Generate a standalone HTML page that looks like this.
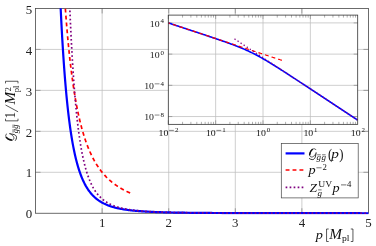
<!DOCTYPE html><html><head><meta charset="utf-8"><style>html,body{margin:0;padding:0;background:#fff;}text{filter:grayscale(1);}svg{display:block;font-family:"Liberation Serif",serif;}</style></head><body>
<svg width="376" height="246" viewBox="0 0 376 246">
<rect width="376" height="246" fill="#fff"/>
<defs><clipPath id="cm"><rect x="35.56" y="8.15" width="333.30" height="206.40"/></clipPath>
<clipPath id="ci"><rect x="168.30" y="15.10" width="189.40" height="109.25"/></clipPath></defs>
<line x1="102.14" y1="213.25" x2="102.14" y2="8.45" stroke="#bebebe" stroke-width="0.75"/>
<line x1="35.56" y1="172.29" x2="368.46" y2="172.29" stroke="#bebebe" stroke-width="0.75"/>
<line x1="168.72" y1="213.25" x2="168.72" y2="8.45" stroke="#bebebe" stroke-width="0.75"/>
<line x1="35.56" y1="131.33" x2="368.46" y2="131.33" stroke="#bebebe" stroke-width="0.75"/>
<line x1="235.30" y1="213.25" x2="235.30" y2="8.45" stroke="#bebebe" stroke-width="0.75"/>
<line x1="35.56" y1="90.37" x2="368.46" y2="90.37" stroke="#bebebe" stroke-width="0.75"/>
<line x1="301.88" y1="213.25" x2="301.88" y2="8.45" stroke="#bebebe" stroke-width="0.75"/>
<line x1="35.56" y1="49.41" x2="368.46" y2="49.41" stroke="#bebebe" stroke-width="0.75"/>
<line x1="102.14" y1="213.25" x2="102.14" y2="208.25" stroke="#8c8c8c" stroke-width="0.8"/>
<line x1="102.14" y1="8.45" x2="102.14" y2="13.45" stroke="#8c8c8c" stroke-width="0.8"/>
<line x1="35.56" y1="172.29" x2="40.56" y2="172.29" stroke="#8c8c8c" stroke-width="0.8"/>
<line x1="368.46" y1="172.29" x2="363.46" y2="172.29" stroke="#8c8c8c" stroke-width="0.8"/>
<line x1="168.72" y1="213.25" x2="168.72" y2="208.25" stroke="#8c8c8c" stroke-width="0.8"/>
<line x1="168.72" y1="8.45" x2="168.72" y2="13.45" stroke="#8c8c8c" stroke-width="0.8"/>
<line x1="35.56" y1="131.33" x2="40.56" y2="131.33" stroke="#8c8c8c" stroke-width="0.8"/>
<line x1="368.46" y1="131.33" x2="363.46" y2="131.33" stroke="#8c8c8c" stroke-width="0.8"/>
<line x1="235.30" y1="213.25" x2="235.30" y2="208.25" stroke="#8c8c8c" stroke-width="0.8"/>
<line x1="235.30" y1="8.45" x2="235.30" y2="13.45" stroke="#8c8c8c" stroke-width="0.8"/>
<line x1="35.56" y1="90.37" x2="40.56" y2="90.37" stroke="#8c8c8c" stroke-width="0.8"/>
<line x1="368.46" y1="90.37" x2="363.46" y2="90.37" stroke="#8c8c8c" stroke-width="0.8"/>
<line x1="301.88" y1="213.25" x2="301.88" y2="208.25" stroke="#8c8c8c" stroke-width="0.8"/>
<line x1="301.88" y1="8.45" x2="301.88" y2="13.45" stroke="#8c8c8c" stroke-width="0.8"/>
<line x1="35.56" y1="49.41" x2="40.56" y2="49.41" stroke="#8c8c8c" stroke-width="0.8"/>
<line x1="368.46" y1="49.41" x2="363.46" y2="49.41" stroke="#8c8c8c" stroke-width="0.8"/>
<rect x="35.56" y="8.45" width="332.90" height="204.80" fill="none" stroke="#484848" stroke-width="0.8"/>
<g clip-path="url(#cm)" fill="none">
<path d="M55.53,-148.77 L56.06,-126.90 L56.58,-106.71 L57.10,-88.05 L57.62,-70.77 L58.14,-54.74 L58.66,-39.85 L59.18,-26.00 L59.71,-13.11 L60.23,-1.08 L60.75,10.15 L61.27,20.64 L61.79,30.46 L62.31,39.66 L62.84,48.29 L63.36,56.38 L63.88,63.99 L64.40,71.14 L64.92,77.87 L65.44,84.20 L65.96,90.17 L66.49,95.81 L67.01,101.13 L67.53,106.15 L68.05,110.90 L68.57,115.39 L69.09,119.64 L69.62,123.66 L70.14,127.48 L70.66,131.09 L71.18,134.53 L71.70,137.78 L72.22,140.88 L72.74,143.82 L73.27,146.61 L73.79,149.27 L74.31,151.80 L74.83,154.21 L75.35,156.50 L75.87,158.69 L76.40,160.77 L76.92,162.76 L77.44,164.65 L77.96,166.46 L78.48,168.19 L79.00,169.84 L79.52,171.42 L80.05,172.93 L80.57,174.37 L81.09,175.76 L81.61,177.08 L82.13,178.34 L82.65,179.55 L83.18,180.71 L83.70,181.83 L84.22,182.89 L84.74,183.91 L85.26,184.89 L85.78,185.84 L86.31,186.74 L86.83,187.61 L87.35,188.44 L87.87,189.24 L88.39,190.01 L88.91,190.75 L89.43,191.46 L89.96,192.14 L90.48,192.80 L91.00,193.43 L91.52,194.04 L92.04,194.63 L92.56,195.19 L93.09,195.74 L93.61,196.26 L94.13,196.76 L94.65,197.25 L95.17,197.72 L95.69,198.17 L96.21,198.61 L96.74,199.03 L97.26,199.44 L97.78,199.83 L98.30,200.21 L98.82,200.58 L99.34,200.93 L99.87,201.27 L100.39,201.60 L100.91,201.92 L101.43,202.23 L101.95,202.53 L102.47,202.81 L102.99,203.09 L103.52,203.36 L104.04,203.62 L104.56,203.88 L105.08,204.12 L105.60,204.36 L106.12,204.59 L106.65,204.81 L107.17,205.02 L107.69,205.23 L108.21,205.43 L108.73,205.63 L109.25,205.82 L109.77,206.00 L110.30,206.18 L110.82,206.36 L111.34,206.52 L111.86,206.69 L112.38,206.85 L112.90,207.00 L113.43,207.15 L113.95,207.29 L114.47,207.43 L114.99,207.57 L115.51,207.70 L116.03,207.83 L116.55,207.96 L117.08,208.08 L117.60,208.20 L118.12,208.31 L118.64,208.42 L119.16,208.53 L119.68,208.64 L120.21,208.74 L120.73,208.84 L121.25,208.94 L121.77,209.03 L122.29,209.12 L122.81,209.21 L123.33,209.30 L123.86,209.38 L124.38,209.47 L124.90,209.55 L125.42,209.63 L125.94,209.70 L126.46,209.78 L126.99,209.85 L127.51,209.92 L128.03,209.99 L128.55,210.06 L129.07,210.12 L129.59,210.18 L130.11,210.25 L130.64,210.31 L131.16,210.37 L131.68,210.42 L132.20,210.48 L132.72,210.54 L133.24,210.59 L133.77,210.64 L134.29,210.69 L134.81,210.74 L135.33,210.79 L135.85,210.84 L136.37,210.88 L136.89,210.93 L137.42,210.97 L137.94,211.02 L138.46,211.06 L138.98,211.10 L139.50,211.14 L140.02,211.18 L140.55,211.22 L141.07,211.25 L141.59,211.29 L142.11,211.33 L142.63,211.36 L143.15,211.40 L143.67,211.43 L144.20,211.46 L144.72,211.49 L145.24,211.53 L145.76,211.56 L146.28,211.59 L146.80,211.62 L147.33,211.64 L147.85,211.67 L148.37,211.70 L148.89,211.73 L149.41,211.75 L149.93,211.78 L150.45,211.80 L150.98,211.83 L151.50,211.85 L152.02,211.88 L152.54,211.90 L153.06,211.92 L153.58,211.94 L154.11,211.97 L154.63,211.99 L155.15,212.01 L155.67,212.03 L156.19,212.05 L156.71,212.07 L157.23,212.09 L157.76,212.11 L158.28,212.12 L158.80,212.14 L159.32,212.16 L159.84,212.18 L160.36,212.19 L160.89,212.21 L161.41,212.23 L161.93,212.24 L162.45,212.26 L162.97,212.27 L163.49,212.29 L164.02,212.30 L164.54,212.32 L165.06,212.33 L165.58,212.35 L166.10,212.36 L166.62,212.37 L167.14,212.39 L167.67,212.40 L168.19,212.41 L168.71,212.43 L169.23,212.44 L169.75,212.45 L170.27,212.46 L170.80,212.47 L171.32,212.49 L171.84,212.50 L172.36,212.51 L172.88,212.52 L173.40,212.53 L173.92,212.54 L174.45,212.55 L174.97,212.56 L175.49,212.57 L176.01,212.58 L176.53,212.59 L177.05,212.60 L177.58,212.61 L178.10,212.62 L178.62,212.62 L179.14,212.63 L179.66,212.64 L180.18,212.65 L180.70,212.66 L181.23,212.67 L181.75,212.67 L182.27,212.68 L182.79,212.69 L183.31,212.70 L183.83,212.71 L184.36,212.71 L184.88,212.72 L185.40,212.73 L185.92,212.73 L186.44,212.74 L186.96,212.75 L187.48,212.75 L188.01,212.76 L188.53,212.77 L189.05,212.77 L189.57,212.78 L190.09,212.79 L190.61,212.79 L191.14,212.80 L191.66,212.80 L192.18,212.81 L192.70,212.82 L193.22,212.82 L193.74,212.83 L194.26,212.83 L194.79,212.84 L195.31,212.84 L195.83,212.85 L196.35,212.85 L196.87,212.86 L197.39,212.86 L197.92,212.87 L198.44,212.87 L198.96,212.88 L199.48,212.88 L200.00,212.89 L200.52,212.89 L201.04,212.89 L201.57,212.90 L202.09,212.90 L202.61,212.91 L203.13,212.91 L203.65,212.92 L204.17,212.92 L204.70,212.92 L205.22,212.93 L205.74,212.93 L206.26,212.93 L206.78,212.94 L207.30,212.94 L207.82,212.95 L208.35,212.95 L208.87,212.95 L209.39,212.96 L209.91,212.96 L210.43,212.96 L210.95,212.97 L211.48,212.97 L212.00,212.97 L212.52,212.98 L213.04,212.98 L213.56,212.98 L214.08,212.99 L214.60,212.99 L215.13,212.99 L215.65,212.99 L216.17,213.00 L216.69,213.00 L217.21,213.00 L217.73,213.01 L218.26,213.01 L218.78,213.01 L219.30,213.01 L219.82,213.02 L220.34,213.02 L220.86,213.02 L221.38,213.02 L221.91,213.03 L222.43,213.03 L222.95,213.03 L223.47,213.03 L223.99,213.04 L224.51,213.04 L225.04,213.04 L225.56,213.04 L226.08,213.04 L226.60,213.05 L227.12,213.05 L227.64,213.05 L228.16,213.05 L228.69,213.06 L229.21,213.06 L229.73,213.06 L230.25,213.06 L230.77,213.06 L231.29,213.07 L231.82,213.07 L232.34,213.07 L232.86,213.07 L233.38,213.07 L233.90,213.07 L234.42,213.08 L234.94,213.08 L235.47,213.08 L235.99,213.08 L236.51,213.08 L237.03,213.09 L237.55,213.09 L238.07,213.09 L238.60,213.09 L239.12,213.09 L239.64,213.09 L240.16,213.09 L240.68,213.10 L241.20,213.10 L241.72,213.10 L242.25,213.10 L242.77,213.10 L243.29,213.10 L243.81,213.11 L244.33,213.11 L244.85,213.11 L245.38,213.11 L245.90,213.11 L246.42,213.11 L246.94,213.11 L247.46,213.11 L247.98,213.12 L248.51,213.12 L249.03,213.12 L249.55,213.12 L250.07,213.12 L250.59,213.12 L251.11,213.12 L251.63,213.12 L252.16,213.13 L252.68,213.13 L253.20,213.13 L253.72,213.13 L254.24,213.13 L254.76,213.13 L255.29,213.13 L255.81,213.13 L256.33,213.14 L256.85,213.14 L257.37,213.14 L257.89,213.14 L258.41,213.14 L258.94,213.14 L259.46,213.14 L259.98,213.14 L260.50,213.14 L261.02,213.14 L261.54,213.15 L262.07,213.15 L262.59,213.15 L263.11,213.15 L263.63,213.15 L264.15,213.15 L264.67,213.15 L265.19,213.15 L265.72,213.15 L266.24,213.15 L266.76,213.15 L267.28,213.16 L267.80,213.16 L268.32,213.16 L268.85,213.16 L269.37,213.16 L269.89,213.16 L270.41,213.16 L270.93,213.16 L271.45,213.16 L271.97,213.16 L272.50,213.16 L273.02,213.16 L273.54,213.16 L274.06,213.17 L274.58,213.17 L275.10,213.17 L275.63,213.17 L276.15,213.17 L276.67,213.17 L277.19,213.17 L277.71,213.17 L278.23,213.17 L278.75,213.17 L279.28,213.17 L279.80,213.17 L280.32,213.17 L280.84,213.17 L281.36,213.17 L281.88,213.18 L282.41,213.18 L282.93,213.18 L283.45,213.18 L283.97,213.18 L284.49,213.18 L285.01,213.18 L285.53,213.18 L286.06,213.18 L286.58,213.18 L287.10,213.18 L287.62,213.18 L288.14,213.18 L288.66,213.18 L289.19,213.18 L289.71,213.18 L290.23,213.18 L290.75,213.19 L291.27,213.19 L291.79,213.19 L292.31,213.19 L292.84,213.19 L293.36,213.19 L293.88,213.19 L294.40,213.19 L294.92,213.19 L295.44,213.19 L295.97,213.19 L296.49,213.19 L297.01,213.19 L297.53,213.19 L298.05,213.19 L298.57,213.19 L299.09,213.19 L299.62,213.19 L300.14,213.19 L300.66,213.19 L301.18,213.19 L301.70,213.20 L302.22,213.20 L302.75,213.20 L303.27,213.20 L303.79,213.20 L304.31,213.20 L304.83,213.20 L305.35,213.20 L305.87,213.20 L306.40,213.20 L306.92,213.20 L307.44,213.20 L307.96,213.20 L308.48,213.20 L309.00,213.20 L309.53,213.20 L310.05,213.20 L310.57,213.20 L311.09,213.20 L311.61,213.20 L312.13,213.20 L312.65,213.20 L313.18,213.20 L313.70,213.20 L314.22,213.20 L314.74,213.20 L315.26,213.20 L315.78,213.21 L316.31,213.21 L316.83,213.21 L317.35,213.21 L317.87,213.21 L318.39,213.21 L318.91,213.21 L319.43,213.21 L319.96,213.21 L320.48,213.21 L321.00,213.21 L321.52,213.21 L322.04,213.21 L322.56,213.21 L323.09,213.21 L323.61,213.21 L324.13,213.21 L324.65,213.21 L325.17,213.21 L325.69,213.21 L326.21,213.21 L326.74,213.21 L327.26,213.21 L327.78,213.21 L328.30,213.21 L328.82,213.21 L329.34,213.21 L329.87,213.21 L330.39,213.21 L330.91,213.21 L331.43,213.21 L331.95,213.21 L332.47,213.21 L333.00,213.21 L333.52,213.21 L334.04,213.22 L334.56,213.22 L335.08,213.22 L335.60,213.22 L336.12,213.22 L336.65,213.22 L337.17,213.22 L337.69,213.22 L338.21,213.22 L338.73,213.22 L339.25,213.22 L339.78,213.22 L340.30,213.22 L340.82,213.22 L341.34,213.22 L341.86,213.22 L342.38,213.22 L342.90,213.22 L343.43,213.22 L343.95,213.22 L344.47,213.22 L344.99,213.22 L345.51,213.22 L346.03,213.22 L346.56,213.22 L347.08,213.22 L347.60,213.22 L348.12,213.22 L348.64,213.22 L349.16,213.22 L349.68,213.22 L350.21,213.22 L350.73,213.22 L351.25,213.22 L351.77,213.22 L352.29,213.22 L352.81,213.22 L353.34,213.22 L353.86,213.22 L354.38,213.22 L354.90,213.22 L355.42,213.22 L355.94,213.22 L356.46,213.22 L356.99,213.22 L357.51,213.22 L358.03,213.22 L358.55,213.22 L359.07,213.22 L359.59,213.22 L360.12,213.22 L360.64,213.23 L361.16,213.23 L361.68,213.23 L362.20,213.23 L362.72,213.23 L363.24,213.23 L363.77,213.23 L364.29,213.23 L364.81,213.23 L365.33,213.23 L365.85,213.23 L366.37,213.23 L366.90,213.23 L367.42,213.23 L367.94,213.23 L368.46,213.23" stroke="#0000ff" stroke-width="2.2"/>
<path d="M130.10,192.94 L129.88,192.84 L129.66,192.75 L129.44,192.65 L129.22,192.55 L129.01,192.46 L128.79,192.36 L128.57,192.26 L128.35,192.16 L128.13,192.06 L127.91,191.96 L127.69,191.86 L127.47,191.75 L127.25,191.65 L127.03,191.55 L126.81,191.44 L126.59,191.34 L126.37,191.23 L126.15,191.12 L125.93,191.02 L125.71,190.91 L125.49,190.80 L125.27,190.69 L125.05,190.58 L124.83,190.47 L124.61,190.35 L124.39,190.24 L124.17,190.13 L123.95,190.01 L123.73,189.89 L123.51,189.78 L123.29,189.66 L123.07,189.54 L122.85,189.42 L122.63,189.30 L122.41,189.18 L122.19,189.06 L121.97,188.93 L121.75,188.81 L121.53,188.69 L121.32,188.56 L121.10,188.43 L120.88,188.30 L120.66,188.18 L120.44,188.05 L120.22,187.91 L120.00,187.78 L119.78,187.65 L119.56,187.52 L119.34,187.38 L119.12,187.24 L118.90,187.11 L118.68,186.97 L118.46,186.83 L118.24,186.69 L118.02,186.55 L117.80,186.40 L117.58,186.26 L117.36,186.11 L117.14,185.97 L116.92,185.82 L116.70,185.67 L116.48,185.52 L116.26,185.37 L116.04,185.22 L115.82,185.06 L115.60,184.91 L115.38,184.75 L115.16,184.60 L114.94,184.44 L114.72,184.28 L114.50,184.12 L114.28,183.95 L114.06,183.79 L113.84,183.62 L113.63,183.46 L113.41,183.29 L113.19,183.12 L112.97,182.95 L112.75,182.77 L112.53,182.60 L112.31,182.42 L112.09,182.25 L111.87,182.07 L111.65,181.89 L111.43,181.70 L111.21,181.52 L110.99,181.34 L110.77,181.15 L110.55,180.96 L110.33,180.77 L110.11,180.58 L109.89,180.39 L109.67,180.19 L109.45,179.99 L109.23,179.80 L109.01,179.59 L108.79,179.39 L108.57,179.19 L108.35,178.98 L108.13,178.77 L107.91,178.57 L107.69,178.35 L107.47,178.14 L107.25,177.92 L107.03,177.71 L106.81,177.49 L106.59,177.27 L106.37,177.04 L106.15,176.82 L105.94,176.59 L105.72,176.36 L105.50,176.13 L105.28,175.89 L105.06,175.66 L104.84,175.42 L104.62,175.18 L104.40,174.93 L104.18,174.69 L103.96,174.44 L103.74,174.19 L103.52,173.93 L103.30,173.68 L103.08,173.42 L102.86,173.16 L102.64,172.90 L102.42,172.63 L102.20,172.36 L101.98,172.09 L101.76,171.82 L101.54,171.54 L101.32,171.26 L101.10,170.98 L100.88,170.70 L100.66,170.41 L100.44,170.12 L100.22,169.82 L100.00,169.53 L99.78,169.23 L99.56,168.93 L99.34,168.62 L99.12,168.31 L98.90,168.00 L98.68,167.68 L98.46,167.36 L98.25,167.04 L98.03,166.72 L97.81,166.39 L97.59,166.05 L97.37,165.72 L97.15,165.38 L96.93,165.04 L96.71,164.69 L96.49,164.34 L96.27,163.98 L96.05,163.62 L95.83,163.26 L95.61,162.89 L95.39,162.52 L95.17,162.15 L94.95,161.77 L94.73,161.39 L94.51,161.00 L94.29,160.61 L94.07,160.21 L93.85,159.81 L93.63,159.41 L93.41,159.00 L93.19,158.58 L92.97,158.16 L92.75,157.74 L92.53,157.31 L92.31,156.88 L92.09,156.44 L91.87,155.99 L91.65,155.54 L91.43,155.09 L91.21,154.63 L90.99,154.16 L90.77,153.69 L90.56,153.22 L90.34,152.73 L90.12,152.24 L89.90,151.75 L89.68,151.25 L89.46,150.74 L89.24,150.23 L89.02,149.71 L88.80,149.19 L88.58,148.65 L88.36,148.12 L88.14,147.57 L87.92,147.02 L87.70,146.46 L87.48,145.89 L87.26,145.32 L87.04,144.74 L86.82,144.15 L86.60,143.55 L86.38,142.95 L86.16,142.34 L85.94,141.72 L85.72,141.09 L85.50,140.45 L85.28,139.81 L85.06,139.15 L84.84,138.49 L84.62,137.82 L84.40,137.14 L84.18,136.45 L83.96,135.75 L83.74,135.04 L83.52,134.33 L83.30,133.60 L83.08,132.86 L82.87,132.11 L82.65,131.35 L82.43,130.58 L82.21,129.80 L81.99,129.01 L81.77,128.21 L81.55,127.39 L81.33,126.57 L81.11,125.73 L80.89,124.88 L80.67,124.01 L80.45,123.14 L80.23,122.25 L80.01,121.35 L79.79,120.43 L79.57,119.50 L79.35,118.56 L79.13,117.60 L78.91,116.63 L78.69,115.64 L78.47,114.64 L78.25,113.62 L78.03,112.59 L77.81,111.54 L77.59,110.47 L77.37,109.39 L77.15,108.29 L76.93,107.17 L76.71,106.04 L76.49,104.88 L76.27,103.71 L76.05,102.52 L75.83,101.31 L75.61,100.08 L75.39,98.82 L75.18,97.55 L74.96,96.26 L74.74,94.94 L74.52,93.60 L74.30,92.24 L74.08,90.86 L73.86,89.45 L73.64,88.02 L73.42,86.56 L73.20,85.08 L72.98,83.57 L72.76,82.03 L72.54,80.47 L72.32,78.87 L72.10,77.25 L71.88,75.60 L71.66,73.92 L71.44,72.21 L71.22,70.47 L71.00,68.69 L70.78,66.88 L70.56,65.04 L70.34,63.16 L70.12,61.24 L69.90,59.29 L69.68,57.30 L69.46,55.28 L69.24,53.21 L69.02,51.10 L68.80,48.95 L68.58,46.76 L68.36,44.52 L68.14,42.24 L67.92,39.91 L67.70,37.53 L67.49,35.10 L67.27,32.62 L67.05,30.09 L66.83,27.51 L66.61,24.87 L66.39,22.18 L66.17,19.42 L65.95,16.61 L65.73,13.74 L65.51,10.80 L65.29,7.79 L65.07,4.72 L64.85,1.58 L64.63,-1.63 L64.41,-4.91 L64.19,-8.28" stroke="#ff0000" stroke-width="1.7" stroke-dasharray="3.9 3.03"/>
<path d="M68.85,-16.13 L69.35,-2.86 L69.85,9.45 L70.35,20.90 L70.85,31.56 L71.35,41.49 L71.85,50.75 L72.35,59.40 L72.84,67.48 L73.34,75.03 L73.84,82.10 L74.34,88.73 L74.84,94.94 L75.34,100.77 L75.84,106.24 L76.34,111.39 L76.84,116.23 L77.34,120.79 L77.84,125.08 L78.34,129.12 L78.84,132.94 L79.34,136.54 L79.84,139.94 L80.34,143.16 L80.83,146.20 L81.33,149.08 L81.83,151.80 L82.33,154.39 L82.83,156.83 L83.33,159.16 L83.83,161.36 L84.33,163.45 L84.83,165.44 L85.33,167.33 L85.83,169.13 L86.33,170.84 L86.83,172.47 L87.33,174.02 L87.83,175.50 L88.32,176.91 L88.82,178.25 L89.32,179.53 L89.82,180.76 L90.32,181.93 L90.82,183.04 L91.32,184.11 L91.82,185.13 L92.32,186.11 L92.82,187.04 L93.32,187.94 L93.82,188.79 L94.32,189.61 L94.82,190.40 L95.32,191.16 L95.81,191.88 L96.31,192.57 L96.81,193.24 L97.31,193.88 L97.81,194.49 L98.31,195.08 L98.81,195.65 L99.31,196.19 L99.81,196.72 L100.31,197.22 L100.81,197.71 L101.31,198.17 L101.81,198.62 L102.31,199.06 L102.81,199.47 L103.31,199.88 L103.80,200.26 L104.30,200.64 L104.80,201.00 L105.30,201.34 L105.80,201.68 L106.30,202.00 L106.80,202.31 L107.30,202.61 L107.80,202.91 L108.30,203.19 L108.80,203.46 L109.30,203.72 L109.80,203.97 L110.30,204.22 L110.80,204.46 L111.29,204.69 L111.79,204.91 L112.29,205.12 L112.79,205.33 L113.29,205.53 L113.79,205.73 L114.29,205.92 L114.79,206.10 L115.29,206.28 L115.79,206.45 L116.29,206.62 L116.79,206.78 L117.29,206.94 L117.79,207.09 L118.29,207.23 L118.78,207.38 L119.28,207.52 L119.78,207.65 L120.28,207.78 L120.78,207.91 L121.28,208.03 L121.78,208.15 L122.28,208.27 L122.78,208.38 L123.28,208.49 L123.78,208.60 L124.28,208.70 L124.78,208.80 L125.28,208.90 L125.78,209.00 L126.28,209.09 L126.77,209.18 L127.27,209.27 L127.77,209.35 L128.27,209.44 L128.77,209.52 L129.27,209.60 L129.77,209.67 L130.27,209.75 L130.77,209.82 L131.27,209.89 L131.77,209.96 L132.27,210.03 L132.77,210.09 L133.27,210.16 L133.77,210.22 L134.26,210.28 L134.76,210.34 L135.26,210.40 L135.76,210.46 L136.26,210.51 L136.76,210.56 L137.26,210.62 L137.76,210.67 L138.26,210.72 L138.76,210.77 L139.26,210.81 L139.76,210.86 L140.26,210.91 L140.76,210.95 L141.26,210.99 L141.76,211.03 L142.25,211.08 L142.75,211.12 L143.25,211.16 L143.75,211.19 L144.25,211.23 L144.75,211.27 L145.25,211.30 L145.75,211.34 L146.25,211.37 L146.75,211.41 L147.25,211.44 L147.75,211.47 L148.25,211.50 L148.75,211.53 L149.25,211.56 L149.74,211.59 L150.24,211.62 L150.74,211.65 L151.24,211.68 L151.74,211.70 L152.24,211.73 L152.74,211.76 L153.24,211.78 L153.74,211.81 L154.24,211.83 L154.74,211.85 L155.24,211.88 L155.74,211.90 L156.24,211.92 L156.74,211.94 L157.23,211.96 L157.73,211.99 L158.23,212.01 L158.73,212.03 L159.23,212.05 L159.73,212.07 L160.23,212.08 L160.73,212.10 L161.23,212.12 L161.73,212.14 L162.23,212.16 L162.73,212.17 L163.23,212.19 L163.73,212.21 L164.23,212.22 L164.73,212.24 L165.22,212.25 L165.72,212.27 L166.22,212.28 L166.72,212.30 L167.22,212.31 L167.72,212.33 L168.22,212.34 L168.72,212.35 L169.22,212.37 L169.72,212.38 L170.22,212.39 L170.72,212.41 L171.22,212.42 L171.72,212.43 L172.22,212.44 L172.71,212.45 L173.21,212.47 L173.71,212.48 L174.21,212.49 L174.71,212.50 L175.21,212.51 L175.71,212.52 L176.21,212.53 L176.71,212.54 L177.21,212.55 L177.71,212.56 L178.21,212.57 L178.71,212.58 L179.21,212.59 L179.71,212.60 L180.21,212.61 L180.70,212.62 L181.20,212.62 L181.70,212.63 L182.20,212.64 L182.70,212.65 L183.20,212.66 L183.70,212.67 L184.20,212.67 L184.70,212.68 L185.20,212.69 L185.70,212.70 L186.20,212.70 L186.70,212.71 L187.20,212.72 L187.70,212.72 L188.19,212.73 L188.69,212.74 L189.19,212.74 L189.69,212.75 L190.19,212.76 L190.69,212.76 L191.19,212.77 L191.69,212.78 L192.19,212.78 L192.69,212.79 L193.19,212.79 L193.69,212.80 L194.19,212.81 L194.69,212.81 L195.19,212.82 L195.68,212.82 L196.18,212.83 L196.68,212.83 L197.18,212.84 L197.68,212.84 L198.18,212.85 L198.68,212.85 L199.18,212.86 L199.68,212.86 L200.18,212.87 L200.68,212.87 L201.18,212.88 L201.68,212.88 L202.18,212.88 L202.68,212.89 L203.18,212.89 L203.67,212.90 L204.17,212.90 L204.67,212.91 L205.17,212.91 L205.67,212.91 L206.17,212.92 L206.67,212.92 L207.17,212.93 L207.67,212.93 L208.17,212.93 L208.67,212.94 L209.17,212.94 L209.67,212.94 L210.17,212.95 L210.67,212.95 L211.16,212.95 L211.66,212.96 L212.16,212.96 L212.66,212.96 L213.16,212.97 L213.66,212.97 L214.16,212.97 L214.66,212.98 L215.16,212.98 L215.66,212.98 L216.16,212.99 L216.66,212.99 L217.16,212.99 L217.66,212.99 L218.16,213.00 L218.66,213.00 L219.15,213.00 L219.65,213.00 L220.15,213.01 L220.65,213.01 L221.15,213.01 L221.65,213.02 L222.15,213.02 L222.65,213.02 L223.15,213.02 L223.65,213.02 L224.15,213.03 L224.65,213.03 L225.15,213.03 L225.65,213.03 L226.15,213.04 L226.64,213.04 L227.14,213.04 L227.64,213.04 L228.14,213.05 L228.64,213.05 L229.14,213.05 L229.64,213.05 L230.14,213.05 L230.64,213.06 L231.14,213.06 L231.64,213.06 L232.14,213.06 L232.64,213.06 L233.14,213.07 L233.64,213.07 L234.13,213.07 L234.63,213.07 L235.13,213.07 L235.63,213.07 L236.13,213.08 L236.63,213.08 L237.13,213.08 L237.63,213.08 L238.13,213.08 L238.63,213.08 L239.13,213.09 L239.63,213.09 L240.13,213.09 L240.63,213.09 L241.13,213.09 L241.63,213.09 L242.12,213.10 L242.62,213.10 L243.12,213.10 L243.62,213.10 L244.12,213.10 L244.62,213.10 L245.12,213.10 L245.62,213.11 L246.12,213.11 L246.62,213.11 L247.12,213.11 L247.62,213.11 L248.12,213.11 L248.62,213.11 L249.12,213.11 L249.61,213.12 L250.11,213.12 L250.61,213.12 L251.11,213.12 L251.61,213.12 L252.11,213.12 L252.61,213.12 L253.11,213.12 L253.61,213.13 L254.11,213.13 L254.61,213.13 L255.11,213.13 L255.61,213.13 L256.11,213.13 L256.61,213.13 L257.10,213.13 L257.60,213.13 L258.10,213.14 L258.60,213.14 L259.10,213.14 L259.60,213.14 L260.10,213.14 L260.60,213.14 L261.10,213.14 L261.60,213.14 L262.10,213.14 L262.60,213.14 L263.10,213.14 L263.60,213.15 L264.10,213.15 L264.60,213.15 L265.09,213.15 L265.59,213.15 L266.09,213.15 L266.59,213.15 L267.09,213.15 L267.59,213.15 L268.09,213.15 L268.59,213.15 L269.09,213.16 L269.59,213.16 L270.09,213.16 L270.59,213.16 L271.09,213.16 L271.59,213.16 L272.09,213.16 L272.58,213.16 L273.08,213.16 L273.58,213.16 L274.08,213.16 L274.58,213.16 L275.08,213.16 L275.58,213.17 L276.08,213.17 L276.58,213.17 L277.08,213.17 L277.58,213.17 L278.08,213.17 L278.58,213.17 L279.08,213.17 L279.58,213.17 L280.08,213.17 L280.57,213.17 L281.07,213.17 L281.57,213.17 L282.07,213.17 L282.57,213.17 L283.07,213.17 L283.57,213.18 L284.07,213.18 L284.57,213.18 L285.07,213.18 L285.57,213.18 L286.07,213.18 L286.57,213.18 L287.07,213.18 L287.57,213.18 L288.06,213.18 L288.56,213.18 L289.06,213.18 L289.56,213.18 L290.06,213.18 L290.56,213.18 L291.06,213.18 L291.56,213.18 L292.06,213.18 L292.56,213.19 L293.06,213.19 L293.56,213.19 L294.06,213.19 L294.56,213.19 L295.06,213.19 L295.55,213.19 L296.05,213.19 L296.55,213.19 L297.05,213.19 L297.55,213.19 L298.05,213.19 L298.55,213.19 L299.05,213.19 L299.55,213.19 L300.05,213.19 L300.55,213.19 L301.05,213.19 L301.55,213.19 L302.05,213.19 L302.55,213.19 L303.05,213.19 L303.54,213.20 L304.04,213.20 L304.54,213.20 L305.04,213.20 L305.54,213.20 L306.04,213.20 L306.54,213.20 L307.04,213.20 L307.54,213.20 L308.04,213.20 L308.54,213.20 L309.04,213.20 L309.54,213.20 L310.04,213.20 L310.54,213.20 L311.03,213.20 L311.53,213.20 L312.03,213.20 L312.53,213.20 L313.03,213.20 L313.53,213.20 L314.03,213.20 L314.53,213.20 L315.03,213.20 L315.53,213.20 L316.03,213.20 L316.53,213.20 L317.03,213.21 L317.53,213.21 L318.03,213.21 L318.52,213.21 L319.02,213.21 L319.52,213.21 L320.02,213.21 L320.52,213.21 L321.02,213.21 L321.52,213.21 L322.02,213.21 L322.52,213.21 L323.02,213.21 L323.52,213.21 L324.02,213.21 L324.52,213.21 L325.02,213.21 L325.52,213.21 L326.02,213.21 L326.51,213.21 L327.01,213.21 L327.51,213.21 L328.01,213.21 L328.51,213.21 L329.01,213.21 L329.51,213.21 L330.01,213.21 L330.51,213.21 L331.01,213.21 L331.51,213.21 L332.01,213.21 L332.51,213.21 L333.01,213.21 L333.51,213.21 L334.00,213.21 L334.50,213.21 L335.00,213.21 L335.50,213.22 L336.00,213.22 L336.50,213.22 L337.00,213.22 L337.50,213.22 L338.00,213.22 L338.50,213.22 L339.00,213.22 L339.50,213.22 L340.00,213.22 L340.50,213.22 L341.00,213.22 L341.50,213.22 L341.99,213.22 L342.49,213.22 L342.99,213.22 L343.49,213.22 L343.99,213.22 L344.49,213.22 L344.99,213.22 L345.49,213.22 L345.99,213.22 L346.49,213.22 L346.99,213.22 L347.49,213.22 L347.99,213.22 L348.49,213.22 L348.99,213.22 L349.48,213.22 L349.98,213.22 L350.48,213.22 L350.98,213.22 L351.48,213.22 L351.98,213.22 L352.48,213.22 L352.98,213.22 L353.48,213.22 L353.98,213.22 L354.48,213.22 L354.98,213.22 L355.48,213.22 L355.98,213.22 L356.48,213.22 L356.97,213.22 L357.47,213.22 L357.97,213.22 L358.47,213.22 L358.97,213.22 L359.47,213.22 L359.97,213.22 L360.47,213.22 L360.97,213.22 L361.47,213.23 L361.97,213.23 L362.47,213.23 L362.97,213.23 L363.47,213.23 L363.97,213.23 L364.47,213.23 L364.96,213.23 L365.46,213.23 L365.96,213.23 L366.46,213.23 L366.96,213.23 L367.46,213.23 L367.96,213.23 L368.46,213.23" stroke="#800080" stroke-width="1.7" stroke-dasharray="1.7 2.36" stroke-dashoffset="1.7"/>
</g>
<text transform="translate(32.2,218.45) scale(0.97,1)" font-size="13.3" text-anchor="end" fill="#222">0</text>
<text transform="translate(102.14,227.0) scale(0.97,1)" font-size="13.3" text-anchor="middle" fill="#222">1</text>
<text transform="translate(32.2,177.49) scale(0.97,1)" font-size="13.3" text-anchor="end" fill="#222">1</text>
<text transform="translate(168.72,227.0) scale(0.97,1)" font-size="13.3" text-anchor="middle" fill="#222">2</text>
<text transform="translate(32.2,136.53) scale(0.97,1)" font-size="13.3" text-anchor="end" fill="#222">2</text>
<text transform="translate(235.30,227.0) scale(0.97,1)" font-size="13.3" text-anchor="middle" fill="#222">3</text>
<text transform="translate(32.2,95.57) scale(0.97,1)" font-size="13.3" text-anchor="end" fill="#222">3</text>
<text transform="translate(301.88,227.0) scale(0.97,1)" font-size="13.3" text-anchor="middle" fill="#222">4</text>
<text transform="translate(32.2,54.61) scale(0.97,1)" font-size="13.3" text-anchor="end" fill="#222">4</text>
<text transform="translate(368.46,227.0) scale(0.97,1)" font-size="13.3" text-anchor="middle" fill="#222">5</text>
<text transform="translate(32.2,13.65) scale(0.97,1)" font-size="13.3" text-anchor="end" fill="#222">5</text>
<rect x="168.30" y="15.10" width="189.40" height="109.25" fill="#fff"/>
<line x1="215.65" y1="124.35" x2="215.65" y2="15.10" stroke="#bebebe" stroke-width="0.75"/>
<line x1="263.00" y1="124.35" x2="263.00" y2="15.10" stroke="#bebebe" stroke-width="0.75"/>
<line x1="310.35" y1="124.35" x2="310.35" y2="15.10" stroke="#bebebe" stroke-width="0.75"/>
<line x1="168.30" y1="22.90" x2="357.70" y2="22.90" stroke="#bebebe" stroke-width="0.75"/>
<line x1="168.30" y1="54.12" x2="357.70" y2="54.12" stroke="#bebebe" stroke-width="0.75"/>
<line x1="168.30" y1="85.33" x2="357.70" y2="85.33" stroke="#bebebe" stroke-width="0.75"/>
<line x1="168.30" y1="116.55" x2="357.70" y2="116.55" stroke="#bebebe" stroke-width="0.75"/>
<line x1="168.30" y1="124.35" x2="168.30" y2="120.35" stroke="#7c7c7c" stroke-width="0.6"/>
<line x1="168.30" y1="15.10" x2="168.30" y2="19.10" stroke="#7c7c7c" stroke-width="0.6"/>
<line x1="182.55" y1="124.35" x2="182.55" y2="121.85" stroke="#7c7c7c" stroke-width="0.6"/>
<line x1="182.55" y1="15.10" x2="182.55" y2="17.60" stroke="#7c7c7c" stroke-width="0.6"/>
<line x1="190.89" y1="124.35" x2="190.89" y2="121.85" stroke="#7c7c7c" stroke-width="0.6"/>
<line x1="190.89" y1="15.10" x2="190.89" y2="17.60" stroke="#7c7c7c" stroke-width="0.6"/>
<line x1="196.81" y1="124.35" x2="196.81" y2="121.85" stroke="#7c7c7c" stroke-width="0.6"/>
<line x1="196.81" y1="15.10" x2="196.81" y2="17.60" stroke="#7c7c7c" stroke-width="0.6"/>
<line x1="201.40" y1="124.35" x2="201.40" y2="121.85" stroke="#7c7c7c" stroke-width="0.6"/>
<line x1="201.40" y1="15.10" x2="201.40" y2="17.60" stroke="#7c7c7c" stroke-width="0.6"/>
<line x1="205.15" y1="124.35" x2="205.15" y2="121.85" stroke="#7c7c7c" stroke-width="0.6"/>
<line x1="205.15" y1="15.10" x2="205.15" y2="17.60" stroke="#7c7c7c" stroke-width="0.6"/>
<line x1="208.32" y1="124.35" x2="208.32" y2="121.85" stroke="#7c7c7c" stroke-width="0.6"/>
<line x1="208.32" y1="15.10" x2="208.32" y2="17.60" stroke="#7c7c7c" stroke-width="0.6"/>
<line x1="211.06" y1="124.35" x2="211.06" y2="121.85" stroke="#7c7c7c" stroke-width="0.6"/>
<line x1="211.06" y1="15.10" x2="211.06" y2="17.60" stroke="#7c7c7c" stroke-width="0.6"/>
<line x1="213.48" y1="124.35" x2="213.48" y2="121.85" stroke="#7c7c7c" stroke-width="0.6"/>
<line x1="213.48" y1="15.10" x2="213.48" y2="17.60" stroke="#7c7c7c" stroke-width="0.6"/>
<line x1="215.65" y1="124.35" x2="215.65" y2="120.35" stroke="#7c7c7c" stroke-width="0.6"/>
<line x1="215.65" y1="15.10" x2="215.65" y2="19.10" stroke="#7c7c7c" stroke-width="0.6"/>
<line x1="229.90" y1="124.35" x2="229.90" y2="121.85" stroke="#7c7c7c" stroke-width="0.6"/>
<line x1="229.90" y1="15.10" x2="229.90" y2="17.60" stroke="#7c7c7c" stroke-width="0.6"/>
<line x1="238.24" y1="124.35" x2="238.24" y2="121.85" stroke="#7c7c7c" stroke-width="0.6"/>
<line x1="238.24" y1="15.10" x2="238.24" y2="17.60" stroke="#7c7c7c" stroke-width="0.6"/>
<line x1="244.16" y1="124.35" x2="244.16" y2="121.85" stroke="#7c7c7c" stroke-width="0.6"/>
<line x1="244.16" y1="15.10" x2="244.16" y2="17.60" stroke="#7c7c7c" stroke-width="0.6"/>
<line x1="248.75" y1="124.35" x2="248.75" y2="121.85" stroke="#7c7c7c" stroke-width="0.6"/>
<line x1="248.75" y1="15.10" x2="248.75" y2="17.60" stroke="#7c7c7c" stroke-width="0.6"/>
<line x1="252.50" y1="124.35" x2="252.50" y2="121.85" stroke="#7c7c7c" stroke-width="0.6"/>
<line x1="252.50" y1="15.10" x2="252.50" y2="17.60" stroke="#7c7c7c" stroke-width="0.6"/>
<line x1="255.67" y1="124.35" x2="255.67" y2="121.85" stroke="#7c7c7c" stroke-width="0.6"/>
<line x1="255.67" y1="15.10" x2="255.67" y2="17.60" stroke="#7c7c7c" stroke-width="0.6"/>
<line x1="258.41" y1="124.35" x2="258.41" y2="121.85" stroke="#7c7c7c" stroke-width="0.6"/>
<line x1="258.41" y1="15.10" x2="258.41" y2="17.60" stroke="#7c7c7c" stroke-width="0.6"/>
<line x1="260.83" y1="124.35" x2="260.83" y2="121.85" stroke="#7c7c7c" stroke-width="0.6"/>
<line x1="260.83" y1="15.10" x2="260.83" y2="17.60" stroke="#7c7c7c" stroke-width="0.6"/>
<line x1="263.00" y1="124.35" x2="263.00" y2="120.35" stroke="#7c7c7c" stroke-width="0.6"/>
<line x1="263.00" y1="15.10" x2="263.00" y2="19.10" stroke="#7c7c7c" stroke-width="0.6"/>
<line x1="277.25" y1="124.35" x2="277.25" y2="121.85" stroke="#7c7c7c" stroke-width="0.6"/>
<line x1="277.25" y1="15.10" x2="277.25" y2="17.60" stroke="#7c7c7c" stroke-width="0.6"/>
<line x1="285.59" y1="124.35" x2="285.59" y2="121.85" stroke="#7c7c7c" stroke-width="0.6"/>
<line x1="285.59" y1="15.10" x2="285.59" y2="17.60" stroke="#7c7c7c" stroke-width="0.6"/>
<line x1="291.51" y1="124.35" x2="291.51" y2="121.85" stroke="#7c7c7c" stroke-width="0.6"/>
<line x1="291.51" y1="15.10" x2="291.51" y2="17.60" stroke="#7c7c7c" stroke-width="0.6"/>
<line x1="296.10" y1="124.35" x2="296.10" y2="121.85" stroke="#7c7c7c" stroke-width="0.6"/>
<line x1="296.10" y1="15.10" x2="296.10" y2="17.60" stroke="#7c7c7c" stroke-width="0.6"/>
<line x1="299.85" y1="124.35" x2="299.85" y2="121.85" stroke="#7c7c7c" stroke-width="0.6"/>
<line x1="299.85" y1="15.10" x2="299.85" y2="17.60" stroke="#7c7c7c" stroke-width="0.6"/>
<line x1="303.02" y1="124.35" x2="303.02" y2="121.85" stroke="#7c7c7c" stroke-width="0.6"/>
<line x1="303.02" y1="15.10" x2="303.02" y2="17.60" stroke="#7c7c7c" stroke-width="0.6"/>
<line x1="305.76" y1="124.35" x2="305.76" y2="121.85" stroke="#7c7c7c" stroke-width="0.6"/>
<line x1="305.76" y1="15.10" x2="305.76" y2="17.60" stroke="#7c7c7c" stroke-width="0.6"/>
<line x1="308.18" y1="124.35" x2="308.18" y2="121.85" stroke="#7c7c7c" stroke-width="0.6"/>
<line x1="308.18" y1="15.10" x2="308.18" y2="17.60" stroke="#7c7c7c" stroke-width="0.6"/>
<line x1="310.35" y1="124.35" x2="310.35" y2="120.35" stroke="#7c7c7c" stroke-width="0.6"/>
<line x1="310.35" y1="15.10" x2="310.35" y2="19.10" stroke="#7c7c7c" stroke-width="0.6"/>
<line x1="324.60" y1="124.35" x2="324.60" y2="121.85" stroke="#7c7c7c" stroke-width="0.6"/>
<line x1="324.60" y1="15.10" x2="324.60" y2="17.60" stroke="#7c7c7c" stroke-width="0.6"/>
<line x1="332.94" y1="124.35" x2="332.94" y2="121.85" stroke="#7c7c7c" stroke-width="0.6"/>
<line x1="332.94" y1="15.10" x2="332.94" y2="17.60" stroke="#7c7c7c" stroke-width="0.6"/>
<line x1="338.86" y1="124.35" x2="338.86" y2="121.85" stroke="#7c7c7c" stroke-width="0.6"/>
<line x1="338.86" y1="15.10" x2="338.86" y2="17.60" stroke="#7c7c7c" stroke-width="0.6"/>
<line x1="343.45" y1="124.35" x2="343.45" y2="121.85" stroke="#7c7c7c" stroke-width="0.6"/>
<line x1="343.45" y1="15.10" x2="343.45" y2="17.60" stroke="#7c7c7c" stroke-width="0.6"/>
<line x1="347.20" y1="124.35" x2="347.20" y2="121.85" stroke="#7c7c7c" stroke-width="0.6"/>
<line x1="347.20" y1="15.10" x2="347.20" y2="17.60" stroke="#7c7c7c" stroke-width="0.6"/>
<line x1="350.37" y1="124.35" x2="350.37" y2="121.85" stroke="#7c7c7c" stroke-width="0.6"/>
<line x1="350.37" y1="15.10" x2="350.37" y2="17.60" stroke="#7c7c7c" stroke-width="0.6"/>
<line x1="353.11" y1="124.35" x2="353.11" y2="121.85" stroke="#7c7c7c" stroke-width="0.6"/>
<line x1="353.11" y1="15.10" x2="353.11" y2="17.60" stroke="#7c7c7c" stroke-width="0.6"/>
<line x1="355.53" y1="124.35" x2="355.53" y2="121.85" stroke="#7c7c7c" stroke-width="0.6"/>
<line x1="355.53" y1="15.10" x2="355.53" y2="17.60" stroke="#7c7c7c" stroke-width="0.6"/>
<line x1="168.30" y1="22.90" x2="172.30" y2="22.90" stroke="#7c7c7c" stroke-width="0.6"/>
<line x1="357.70" y1="22.90" x2="353.70" y2="22.90" stroke="#7c7c7c" stroke-width="0.6"/>
<line x1="168.30" y1="54.12" x2="172.30" y2="54.12" stroke="#7c7c7c" stroke-width="0.6"/>
<line x1="357.70" y1="54.12" x2="353.70" y2="54.12" stroke="#7c7c7c" stroke-width="0.6"/>
<line x1="168.30" y1="85.33" x2="172.30" y2="85.33" stroke="#7c7c7c" stroke-width="0.6"/>
<line x1="357.70" y1="85.33" x2="353.70" y2="85.33" stroke="#7c7c7c" stroke-width="0.6"/>
<line x1="168.30" y1="116.55" x2="172.30" y2="116.55" stroke="#7c7c7c" stroke-width="0.6"/>
<line x1="357.70" y1="116.55" x2="353.70" y2="116.55" stroke="#7c7c7c" stroke-width="0.6"/>
<g clip-path="url(#ci)" fill="none">
<path d="M168.30,22.90 L169.25,23.22 L170.19,23.53 L171.14,23.84 L172.09,24.15 L173.04,24.47 L173.98,24.78 L174.93,25.09 L175.88,25.40 L176.82,25.72 L177.77,26.03 L178.72,26.34 L179.66,26.65 L180.61,26.96 L181.56,27.28 L182.51,27.59 L183.45,27.90 L184.40,28.21 L185.35,28.53 L186.29,28.84 L187.24,29.15 L188.19,29.47 L189.13,29.78 L190.08,30.09 L191.03,30.40 L191.98,30.72 L192.92,31.03 L193.87,31.34 L194.82,31.66 L195.76,31.97 L196.71,32.28 L197.66,32.60 L198.60,32.91 L199.55,33.22 L200.50,33.54 L201.44,33.85 L202.39,34.17 L203.34,34.48 L204.29,34.80 L205.23,35.11 L206.18,35.43 L207.13,35.74 L208.07,36.06 L209.02,36.38 L209.97,36.69 L210.91,37.01 L211.86,37.33 L212.81,37.65 L213.76,37.97 L214.70,38.29 L215.65,38.61 L216.60,38.93 L217.54,39.25 L218.49,39.57 L219.44,39.90 L220.39,40.22 L221.33,40.55 L222.28,40.88 L223.23,41.20 L224.17,41.53 L225.12,41.87 L226.07,42.20 L227.01,42.54 L227.96,42.87 L228.91,43.22 L229.86,43.56 L230.80,43.90 L231.75,44.25 L232.70,44.60 L233.64,44.96 L234.59,45.32 L235.54,45.68 L236.48,46.04 L237.43,46.41 L238.38,46.79 L239.32,47.17 L240.27,47.55 L241.22,47.94 L242.17,48.33 L243.11,48.73 L244.06,49.14 L245.01,49.55 L245.95,49.97 L246.90,50.40 L247.85,50.83 L248.80,51.27 L249.74,51.72 L250.69,52.17 L251.64,52.63 L252.58,53.10 L253.53,53.57 L254.48,54.05 L255.42,54.54 L256.37,55.04 L257.32,55.54 L258.26,56.05 L259.21,56.57 L260.16,57.09 L261.11,57.62 L262.05,58.15 L263.00,58.69 L263.95,59.24 L264.89,59.79 L265.84,60.35 L266.79,60.91 L267.74,61.47 L268.68,62.04 L269.63,62.62 L270.58,63.19 L271.52,63.78 L272.47,64.36 L273.42,64.95 L274.36,65.54 L275.31,66.13 L276.26,66.73 L277.20,67.33 L278.15,67.93 L279.10,68.53 L280.05,69.13 L280.99,69.74 L281.94,70.34 L282.89,70.95 L283.83,71.56 L284.78,72.17 L285.73,72.79 L286.68,73.40 L287.62,74.01 L288.57,74.63 L289.52,75.24 L290.46,75.86 L291.41,76.48 L292.36,77.10 L293.30,77.71 L294.25,78.33 L295.20,78.95 L296.14,79.57 L297.09,80.19 L298.04,80.81 L298.99,81.43 L299.93,82.06 L300.88,82.68 L301.83,83.30 L302.77,83.92 L303.72,84.54 L304.67,85.16 L305.62,85.79 L306.56,86.41 L307.51,87.03 L308.46,87.66 L309.40,88.28 L310.35,88.90 L311.30,89.53 L312.24,90.15 L313.19,90.77 L314.14,91.40 L315.09,92.02 L316.03,92.64 L316.98,93.27 L317.93,93.89 L318.87,94.51 L319.82,95.14 L320.77,95.76 L321.71,96.39 L322.66,97.01 L323.61,97.63 L324.55,98.26 L325.50,98.88 L326.45,99.51 L327.40,100.13 L328.34,100.75 L329.29,101.38 L330.24,102.00 L331.18,102.63 L332.13,103.25 L333.08,103.87 L334.02,104.50 L334.97,105.12 L335.92,105.75 L336.87,106.37 L337.81,107.00 L338.76,107.62 L339.71,108.24 L340.65,108.87 L341.60,109.49 L342.55,110.12 L343.50,110.74 L344.44,111.36 L345.39,111.99 L346.34,112.61 L347.28,113.24 L348.23,113.86 L349.18,114.49 L350.12,115.11 L351.07,115.73 L352.02,116.36 L352.96,116.98 L353.91,117.61 L354.86,118.23 L355.81,118.86 L356.75,119.48 L357.70,120.10" stroke="#0000ff" stroke-width="1.6"/>
<path d="M281.84,60.33 L281.26,60.14 L280.69,59.95 L280.11,59.76 L279.53,59.57 L278.95,59.38 L278.37,59.18 L277.79,58.99 L277.21,58.80 L276.64,58.61 L276.06,58.42 L275.48,58.23 L274.90,58.04 L274.32,57.85 L273.74,57.66 L273.16,57.47 L272.59,57.28 L272.01,57.09 L271.43,56.90 L270.85,56.71 L270.27,56.51 L269.69,56.32 L269.11,56.13 L268.54,55.94 L267.96,55.75 L267.38,55.56 L266.80,55.37 L266.22,55.18 L265.64,54.99 L265.06,54.80 L264.49,54.61 L263.91,54.42 L263.33,54.23 L262.75,54.04 L262.17,53.84 L261.59,53.65 L261.01,53.46 L260.44,53.27 L259.86,53.08 L259.28,52.89 L258.70,52.70 L258.12,52.51 L257.54,52.32 L256.97,52.13 L256.39,51.94 L255.81,51.75 L255.23,51.56 L254.65,51.37 L254.07,51.18 L253.49,50.98 L252.92,50.79 L252.34,50.60 L251.76,50.41 L251.18,50.22 L250.60,50.03 L250.02,49.84 L249.44,49.65 L248.87,49.46 L248.29,49.27 L247.71,49.08 L247.13,48.89 L246.55,48.70 L245.97,48.51 L245.39,48.31 L244.82,48.12 L244.24,47.93 L243.66,47.74 L243.08,47.55 L242.50,47.36 L241.92,47.17 L241.34,46.98 L240.77,46.79 L240.19,46.60 L239.61,46.41 L239.03,46.22 L238.45,46.03 L237.87,45.84 L237.29,45.64 L236.72,45.45 L236.14,45.26 L235.56,45.07 L234.98,44.88 L234.40,44.69 L233.82,44.50 L233.24,44.31 L232.67,44.12 L232.09,43.93 L231.51,43.74 L230.93,43.55 L230.35,43.36 L229.77,43.17 L229.19,42.98 L228.62,42.78 L228.04,42.59 L227.46,42.40 L226.88,42.21 L226.30,42.02 L225.72,41.83 L225.15,41.64 L224.57,41.45 L223.99,41.26 L223.41,41.07 L222.83,40.88 L222.25,40.69 L221.67,40.50 L221.10,40.31 L220.52,40.11 L219.94,39.92 L219.36,39.73 L218.78,39.54 L218.20,39.35 L217.62,39.16 L217.05,38.97 L216.47,38.78 L215.89,38.59 L215.31,38.40 L214.73,38.21 L214.15,38.02 L213.57,37.83 L213.00,37.64 L212.42,37.45 L211.84,37.25 L211.26,37.06 L210.68,36.87 L210.10,36.68 L209.52,36.49 L208.95,36.30 L208.37,36.11 L207.79,35.92 L207.21,35.73 L206.63,35.54 L206.05,35.35 L205.47,35.16 L204.90,34.97 L204.32,34.78 L203.74,34.58 L203.16,34.39 L202.58,34.20 L202.00,34.01 L201.42,33.82 L200.85,33.63 L200.27,33.44 L199.69,33.25 L199.11,33.06 L198.53,32.87 L197.95,32.68 L197.37,32.49 L196.80,32.30 L196.22,32.11 L195.64,31.91 L195.06,31.72 L194.48,31.53 L193.90,31.34 L193.33,31.15 L192.75,30.96 L192.17,30.77 L191.59,30.58 L191.01,30.39 L190.43,30.20 L189.85,30.01 L189.28,29.82 L188.70,29.63 L188.12,29.44 L187.54,29.25 L186.96,29.05 L186.38,28.86 L185.80,28.67 L185.23,28.48 L184.65,28.29 L184.07,28.10 L183.49,27.91 L182.91,27.72 L182.33,27.53 L181.75,27.34 L181.18,27.15 L180.60,26.96 L180.02,26.77 L179.44,26.58 L178.86,26.38 L178.28,26.19 L177.70,26.00 L177.13,25.81 L176.55,25.62 L175.97,25.43 L175.39,25.24 L174.81,25.05 L174.23,24.86 L173.65,24.67 L173.08,24.48 L172.50,24.29 L171.92,24.10 L171.34,23.91 L170.76,23.71 L170.18,23.52 L169.60,23.33 L169.03,23.14 L168.45,22.95 L167.87,22.76 L167.29,22.57 L166.71,22.38 L166.13,22.19" stroke="#ff0000" stroke-width="1.15" stroke-dasharray="3.9 3.03"/>
<path d="M234.49,38.88 L235.11,39.29 L235.72,39.70 L236.34,40.10 L236.96,40.51 L237.57,40.91 L238.19,41.32 L238.80,41.73 L239.42,42.13 L240.04,42.54 L240.65,42.94 L241.27,43.35 L241.88,43.76 L242.50,44.16 L243.12,44.57 L243.73,44.97 L244.35,45.38 L244.97,45.79 L245.58,46.19 L246.20,46.60 L246.81,47.01 L247.43,47.41 L248.05,47.82 L248.66,48.22 L249.28,48.63 L249.89,49.04 L250.51,49.44 L251.13,49.85 L251.74,50.25 L252.36,50.66 L252.97,51.07 L253.59,51.47 L254.21,51.88 L254.82,52.28 L255.44,52.69 L256.05,53.10 L256.67,53.50 L257.29,53.91 L257.90,54.31 L258.52,54.72 L259.13,55.13 L259.75,55.53 L260.37,55.94 L260.98,56.35 L261.60,56.75 L262.21,57.16 L262.83,57.56 L263.45,57.97 L264.06,58.38 L264.68,58.78 L265.29,59.19 L265.91,59.59 L266.53,60.00 L267.14,60.41 L267.76,60.81 L268.37,61.22 L268.99,61.62 L269.61,62.03 L270.22,62.44 L270.84,62.84 L271.45,63.25 L272.07,63.66 L272.69,64.06 L273.30,64.47 L273.92,64.87 L274.53,65.28 L275.15,65.69 L275.77,66.09 L276.38,66.50 L277.00,66.90 L277.62,67.31 L278.23,67.72 L278.85,68.12 L279.46,68.53 L280.08,68.93 L280.70,69.34 L281.31,69.75 L281.93,70.15 L282.54,70.56 L283.16,70.97 L283.78,71.37 L284.39,71.78 L285.01,72.18 L285.62,72.59 L286.24,73.00 L286.86,73.40 L287.47,73.81 L288.09,74.21 L288.70,74.62 L289.32,75.03 L289.94,75.43 L290.55,75.84 L291.17,76.24 L291.78,76.65 L292.40,77.06 L293.02,77.46 L293.63,77.87 L294.25,78.28 L294.86,78.68 L295.48,79.09 L296.10,79.49 L296.71,79.90 L297.33,80.31 L297.94,80.71 L298.56,81.12 L299.18,81.52 L299.79,81.93 L300.41,82.34 L301.02,82.74 L301.64,83.15 L302.26,83.55 L302.87,83.96 L303.49,84.37 L304.10,84.77 L304.72,85.18 L305.34,85.59 L305.95,85.99 L306.57,86.40 L307.18,86.80 L307.80,87.21 L308.42,87.62 L309.03,88.02 L309.65,88.43 L310.27,88.83 L310.88,89.24 L311.50,89.65 L312.11,90.05 L312.73,90.46 L313.35,90.86 L313.96,91.27 L314.58,91.68 L315.19,92.08 L315.81,92.49 L316.43,92.90 L317.04,93.30 L317.66,93.71 L318.27,94.11 L318.89,94.52 L319.51,94.93 L320.12,95.33 L320.74,95.74 L321.35,96.14 L321.97,96.55 L322.59,96.96 L323.20,97.36 L323.82,97.77 L324.43,98.17 L325.05,98.58 L325.67,98.99 L326.28,99.39 L326.90,99.80 L327.51,100.21 L328.13,100.61 L328.75,101.02 L329.36,101.42 L329.98,101.83 L330.59,102.24 L331.21,102.64 L331.83,103.05 L332.44,103.45 L333.06,103.86 L333.67,104.27 L334.29,104.67 L334.91,105.08 L335.52,105.48 L336.14,105.89 L336.75,106.30 L337.37,106.70 L337.99,107.11 L338.60,107.52 L339.22,107.92 L339.83,108.33 L340.45,108.73 L341.07,109.14 L341.68,109.55 L342.30,109.95 L342.92,110.36 L343.53,110.76 L344.15,111.17 L344.76,111.58 L345.38,111.98 L346.00,112.39 L346.61,112.79 L347.23,113.20 L347.84,113.61 L348.46,114.01 L349.08,114.42 L349.69,114.82 L350.31,115.23 L350.92,115.64 L351.54,116.04 L352.16,116.45 L352.77,116.86 L353.39,117.26 L354.00,117.67 L354.62,118.07 L355.24,118.48 L355.85,118.89 L356.47,119.29 L357.08,119.70 L357.70,120.10" stroke="#800080" stroke-width="1.3" stroke-dasharray="1.3 2.35"/>
</g>
<rect x="168.30" y="15.10" width="189.40" height="109.25" fill="none" stroke="#333" stroke-width="0.8"/>
<text transform="translate(158.55,135.60) scale(1.13,1)" font-size="8.7" fill="#111">10</text><line x1="169.05" y1="130.40" x2="173.85" y2="130.40" stroke="#111" stroke-width="0.5"/><text transform="translate(174.95,132.30) scale(1.1,1)" font-size="6.3" fill="#111">2</text>
<text transform="translate(205.90,135.60) scale(1.13,1)" font-size="8.7" fill="#111">10</text><line x1="216.40" y1="130.40" x2="221.20" y2="130.40" stroke="#111" stroke-width="0.5"/><text transform="translate(222.30,132.30) scale(1.1,1)" font-size="6.3" fill="#111">1</text>
<text transform="translate(256.05,135.60) scale(1.13,1)" font-size="8.7" fill="#111">10</text><text transform="translate(266.75,132.30) scale(1.1,1)" font-size="6.3" fill="#111">0</text>
<text transform="translate(303.40,135.60) scale(1.13,1)" font-size="8.7" fill="#111">10</text><text transform="translate(314.10,132.30) scale(1.1,1)" font-size="6.3" fill="#111">1</text>
<text transform="translate(350.75,135.60) scale(1.13,1)" font-size="8.7" fill="#111">10</text><text transform="translate(361.45,132.30) scale(1.1,1)" font-size="6.3" fill="#111">2</text>
<text transform="translate(149.80,26.60) scale(1.13,1)" font-size="8.7" fill="#111">10</text><text transform="translate(160.50,23.30) scale(1.1,1)" font-size="6.3" fill="#111">4</text>
<text transform="translate(149.80,57.82) scale(1.13,1)" font-size="8.7" fill="#111">10</text><text transform="translate(160.50,54.52) scale(1.1,1)" font-size="6.3" fill="#111">0</text>
<text transform="translate(144.20,89.03) scale(1.13,1)" font-size="8.7" fill="#111">10</text><line x1="154.70" y1="83.83" x2="159.50" y2="83.83" stroke="#111" stroke-width="0.5"/><text transform="translate(160.60,85.73) scale(1.1,1)" font-size="6.3" fill="#111">4</text>
<text transform="translate(144.20,120.25) scale(1.13,1)" font-size="8.7" fill="#111">10</text><line x1="154.70" y1="115.05" x2="159.50" y2="115.05" stroke="#111" stroke-width="0.5"/><text transform="translate(160.60,116.95) scale(1.1,1)" font-size="6.3" fill="#111">8</text>
<rect x="281.3" y="143.6" width="76.9" height="54.3" fill="#fff" stroke="#444" stroke-width="0.7"/>
<line x1="285.6" y1="153.4" x2="304.5" y2="153.4" stroke="#0000ff" stroke-width="2.2"/>
<line x1="285.6" y1="170.0" x2="304.5" y2="170.0" stroke="#ff0000" stroke-width="1.7" stroke-dasharray="3.9 3.03"/>
<line x1="285.6" y1="187.4" x2="304.5" y2="187.4" stroke="#800080" stroke-width="1.7" stroke-dasharray="1.7 2.313"/>
<g transform="translate(308.80,158.20)"><g fill="none" stroke="#111" stroke-linecap="round" stroke-linejoin="round"><path d="M7.1,-8.5 C6.6,-9.3 5.7,-9.6 4.6,-9.3 C3.2,-9.0 2.0,-7.6 1.3,-6.2 C0.6,-4.8 0.4,-3.4 1.0,-2.3 C1.6,-1.3 2.7,-1.0 3.7,-1.3 C4.9,-1.7 6.0,-2.9 6.9,-4.3" stroke-width="0.7"/><path d="M3.4,-8.7 C2.2,-7.7 1.1,-5.6 0.95,-3.6" stroke-width="1.55"/><path d="M7.3,-5.5 C7.0,-4.0 6.9,-2.4 6.4,-0.9 C5.8,0.8 4.6,1.5 3.4,1.4 C2.2,1.3 1.2,0.9 0.6,0.4" stroke-width="0.85"/></g></g><text transform="translate(316.50,160.40) scale(1.000,1)" font-size="9.00" text-anchor="start" fill="#111" font-style="italic">g</text><line x1="317.20" y1="154.80" x2="320.70" y2="154.80" stroke="#111" stroke-width="0.60"/><text transform="translate(321.40,160.40) scale(1.000,1)" font-size="9.00" text-anchor="start" fill="#111" font-style="italic">g</text><line x1="322.10" y1="154.80" x2="325.60" y2="154.80" stroke="#111" stroke-width="0.60"/>
<text transform="translate(328.00,158.60) scale(0.900,1)" font-size="14.20" text-anchor="start" fill="#111">(</text>
<text transform="translate(331.20,158.20) scale(1.180,1)" font-size="13.00" text-anchor="start" fill="#111" font-style="italic">p</text>
<text transform="translate(339.30,158.60) scale(0.900,1)" font-size="14.20" text-anchor="start" fill="#111">)</text>
<text transform="translate(308.60,174.00) scale(1.100,1)" font-size="13.00" text-anchor="start" fill="#111" font-style="italic">p</text>
<line x1="316.40" y1="167.80" x2="321.60" y2="167.80" stroke="#111" stroke-width="0.60"/>
<text transform="translate(322.40,170.00) scale(1.000,1)" font-size="8.75" text-anchor="start" fill="#111">2</text>
<text transform="translate(309.60,191.50) scale(1.000,1)" font-size="13.50" text-anchor="start" fill="#111" font-style="italic">Z</text>
<text transform="translate(318.30,186.60) scale(1.100,1)" font-size="8.75" text-anchor="start" fill="#111">UV</text>
<text transform="translate(317.40,195.50) scale(1.000,1)" font-size="9.00" text-anchor="start" fill="#111" font-style="italic">g</text><line x1="318.10" y1="189.90" x2="321.60" y2="189.90" stroke="#111" stroke-width="0.60"/>
<text transform="translate(332.60,191.50) scale(1.100,1)" font-size="13.00" text-anchor="start" fill="#111" font-style="italic">p</text>
<line x1="341.00" y1="184.90" x2="346.40" y2="184.90" stroke="#111" stroke-width="0.60"/>
<text transform="translate(346.90,187.30) scale(1.000,1)" font-size="8.75" text-anchor="start" fill="#111">4</text>
<text transform="translate(315.80,238.60) scale(1.100,1)" font-size="13.00" text-anchor="start" fill="#111" font-style="italic">p</text>
<path d="M328.70,229.00 H326.55 V241.50 H328.70" fill="none" stroke="#111" stroke-width="0.7"/>
<text transform="translate(329.30,238.60) scale(1.100,1)" font-size="13.80" text-anchor="start" fill="#111" font-style="italic">M</text>
<text transform="translate(342.00,240.60) scale(1.100,1)" font-size="8.75" text-anchor="start" fill="#111">pl</text>
<path d="M350.80,229.00 H352.95 V241.50 H350.80" fill="none" stroke="#111" stroke-width="0.7"/>
<g transform="translate(15.1,141.0) rotate(-90)">
<g transform="translate(0.00,0.00)"><g fill="none" stroke="#111" stroke-linecap="round" stroke-linejoin="round"><path d="M7.1,-8.5 C6.6,-9.3 5.7,-9.6 4.6,-9.3 C3.2,-9.0 2.0,-7.6 1.3,-6.2 C0.6,-4.8 0.4,-3.4 1.0,-2.3 C1.6,-1.3 2.7,-1.0 3.7,-1.3 C4.9,-1.7 6.0,-2.9 6.9,-4.3" stroke-width="0.7"/><path d="M3.4,-8.7 C2.2,-7.7 1.1,-5.6 0.95,-3.6" stroke-width="1.55"/><path d="M7.3,-5.5 C7.0,-4.0 6.9,-2.4 6.4,-0.9 C5.8,0.8 4.6,1.5 3.4,1.4 C2.2,1.3 1.2,0.9 0.6,0.4" stroke-width="0.85"/></g></g><text transform="translate(7.70,3.20) scale(1.000,1)" font-size="8.40" text-anchor="start" fill="#111" font-style="italic">g</text><line x1="8.40" y1="-2.03" x2="11.90" y2="-2.03" stroke="#111" stroke-width="0.60"/><text transform="translate(12.27,3.20) scale(1.000,1)" font-size="8.40" text-anchor="start" fill="#111" font-style="italic">g</text><line x1="12.97" y1="-2.03" x2="16.47" y2="-2.03" stroke="#111" stroke-width="0.60"/>
<path d="M22.30,-9.60 H20.15 V2.90 H22.30" fill="none" stroke="#111" stroke-width="0.7"/>
<text transform="translate(22.60,0.00) scale(0.930,1)" font-size="14.00" text-anchor="start" fill="#111">1</text>
<line x1="29.2" y1="3.0" x2="36.0" y2="-9.6" stroke="#111" stroke-width="0.7"/>
<text transform="translate(36.40,0.00) scale(1.100,1)" font-size="13.80" text-anchor="start" fill="#111" font-style="italic">M</text>
<text transform="translate(49.60,-4.60) scale(1.000,1)" font-size="8.75" text-anchor="start" fill="#111">2</text>
<text transform="translate(48.70,3.60) scale(1.000,1)" font-size="8.75" text-anchor="start" fill="#111">pl</text>
<path d="M57.60,-9.60 H59.75 V2.90 H57.60" fill="none" stroke="#111" stroke-width="0.7"/>
</g>
</svg></body></html>
